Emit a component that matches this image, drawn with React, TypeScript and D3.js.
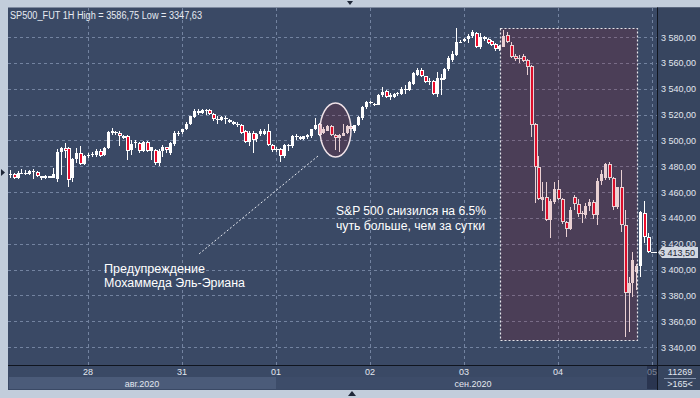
import React from 'react';
import * as d3 from 'd3';

// hourly bars, 24 per day; the first bar sits 20 hours before the 28.08 00:00 line
const startSlot = -20;

const opens = [
  3473, 3474, 3471, 3474.5, 3475, 3474, 3476, 3475.5, 3472, 3471, 3472, 3471, 3470, 3491, 3494, 3494, 3471, 3485.5, 3490, 3482,
  3488, 3488.5, 3488.5, 3492, 3488.5, 3494, 3506, 3506.5, 3505.5, 3503, 3503.4, 3492.5, 3497.7, 3497.7, 3492, 3498.5, 3492, 3492.5, 3482.2, 3491.5, 3494.5, 3490.5, 3497, 3505.4,
  3506.5, 3508.5, 3513, 3518, 3523, 3521.5, 3523.5, 3523.5, 3520.5, 3516.5, 3515.5, 3517.5, 3516, 3514.5, 3513, 3512, 3507, 3499, 3506, 3501, 3505, 3505, 3507, 3496.5,
  3493, 3493, 3487.5, 3496.5, 3496, 3503, 3502.5, 3501, 3502.5, 3503, 3508.5, 3512.5, 3506, 3507.5, 3511, 3504.5, 3502, 3503.5, 3506, 3511, 3507, 3512, 3517, 3526,
  3529.5, 3528.5, 3527.6, 3535, 3538, 3533.5, 3533.5, 3535.5, 3536, 3540, 3539, 3544, 3550.5, 3554.7, 3549.6, 3545.5, 3545.7, 3536.1, 3548, 3547.3, 3555, 3562, 3566, 3576,
  3576.7, 3578.2, 3580.5, 3583, 3572.5, 3580, 3578.5, 3577, 3574.6, 3570.5, 3572.5, 3581.5, 3574, 3565.3, 3563.5, 3565, 3562, 3557.5, 3512.5, 3479, 3454, 3456, 3438, 3452.5,
  3462, 3454.5, 3437, 3431, 3456, 3450.7, 3443, 3442.5, 3449, 3452, 3442.2, 3468.5, 3470.6, 3481.7, 3470.6, 3448.6, 3463.6, 3434.5, 3382, 3389.8, 3398, 3402.7, 3444, 3425,
];
const highs = [
  3477, 3475, 3476, 3478, 3477, 3477, 3478, 3476, 3472.5, 3473, 3472.5, 3478.5, 3493, 3495, 3498, 3494.5, 3486, 3494, 3496, 3489,
  3490, 3491, 3493, 3493, 3495, 3507, 3509.5, 3507, 3507, 3504, 3504, 3500.3, 3500.3, 3499, 3499.5, 3499.5, 3495, 3493, 3493, 3496.4, 3495, 3499, 3507, 3507,
  3509, 3514, 3519, 3524, 3524, 3524.5, 3524, 3524, 3521, 3518.5, 3519, 3519, 3516.5, 3515, 3514, 3512.5, 3508, 3507, 3507, 3506, 3508.5, 3509, 3513, 3497.5,
  3495, 3494, 3497, 3497, 3504, 3505, 3503, 3503.5, 3505, 3509, 3517, 3513.5, 3510, 3512, 3512, 3505, 3505, 3513, 3512, 3512.5, 3512, 3519, 3526.5, 3530.5,
  3530.5, 3529, 3536, 3541.3, 3539, 3537, 3537, 3537.5, 3541, 3542.5, 3546, 3553, 3556, 3556, 3550, 3548.5, 3547, 3553, 3551.5, 3556, 3565.5, 3569.5, 3586.75, 3577.5,
  3579, 3582, 3585.5, 3584, 3583, 3581, 3579, 3578, 3575.5, 3574, 3585.4, 3584, 3576, 3567, 3566, 3567, 3563, 3558, 3513.5, 3487.5, 3468, 3468, 3454.5, 3468,
  3469, 3455, 3437.5, 3448.5, 3457.7, 3454.4, 3445, 3451.3, 3454.4, 3453.8, 3470.6, 3477, 3482.7, 3483.5, 3472, 3464, 3477, 3446, 3394.4, 3413.8, 3404, 3445.5, 3453.3, 3428.5,
];
const lows = [
  3471, 3470, 3470, 3474, 3473, 3473, 3470, 3472, 3469, 3470, 3470.5, 3470.5, 3468, 3473, 3486, 3464, 3468, 3482.5, 3481, 3481,
  3486.5, 3487, 3487, 3487, 3488, 3493, 3504, 3504, 3496, 3501, 3484.8, 3488.6, 3493.8, 3490.5, 3491, 3491, 3484.8, 3481, 3480.5, 3487.3, 3490.5, 3488.6, 3496, 3503,
  3505, 3508, 3512, 3517.5, 3520, 3520.5, 3520, 3520, 3515, 3513, 3515, 3513, 3513.5, 3512, 3510.5, 3505, 3498, 3496, 3490, 3499, 3503, 3504, 3496, 3491,
  3491, 3483.5, 3486, 3492, 3494, 3500.5, 3500, 3500, 3501, 3502, 3508, 3503, 3505, 3507, 3503, 3492.5, 3491, 3503, 3505, 3507.5, 3506, 3511, 3516, 3524,
  3528, 3526.5, 3527, 3533.5, 3532.5, 3531.5, 3533, 3534.5, 3535, 3536, 3538.5, 3543, 3549.5, 3549, 3544.5, 3543, 3535.3, 3533.5, 3535, 3546.5, 3554, 3561, 3565, 3575,
  3576, 3575.7, 3579.5, 3571.5, 3570.5, 3577, 3574.5, 3573, 3569, 3569, 3572, 3575.5, 3564, 3561.5, 3560, 3560.5, 3550.6, 3502.5, 3451.3, 3453.5, 3445, 3437.5, 3424.2, 3451,
  3453.5, 3435, 3425.5, 3430.5, 3446, 3441, 3436.2, 3439.7, 3445, 3439, 3434.5, 3465.5, 3469.5, 3469, 3446, 3447, 3429.3, 3347.63, 3352, 3378.5, 3384, 3394.4, 3420.8, 3412.5,
];
const closes = [
  3474, 3471, 3474.5, 3475, 3474, 3476, 3476.5, 3472.5, 3470.5, 3472, 3471, 3474, 3491, 3494, 3492, 3469.3, 3485.5, 3490, 3482, 3488,
  3488.5, 3489.5, 3492, 3488, 3494, 3506.5, 3507, 3505.5, 3503, 3502, 3492, 3496.9, 3498.9, 3492, 3498.5, 3492, 3494.6, 3482.2, 3492, 3495, 3492.5, 3497.7, 3505.4, 3506,
  3508.5, 3513, 3518.5, 3523, 3521.5, 3523.5, 3523, 3520.5, 3516.3, 3516, 3518, 3517, 3514.5, 3512.5, 3511.5, 3505.5, 3499, 3505.5, 3500.5, 3505, 3507, 3507.5, 3496.5, 3492.5,
  3492.5, 3487.5, 3496.5, 3496, 3503, 3502.5, 3501, 3503, 3504, 3508.5, 3512, 3504, 3508.5, 3511, 3504, 3502, 3504, 3506, 3511, 3509, 3511.5, 3518, 3526, 3529.7,
  3529, 3527.5, 3535, 3537.5, 3533.3, 3535, 3536, 3536.5, 3540, 3539, 3545.2, 3552, 3554.7, 3549.6, 3545.2, 3546, 3536.1, 3548.3, 3547, 3555.5, 3563.7, 3567, 3576, 3576.5,
  3578.2, 3580.8, 3583.9, 3572.5, 3580.2, 3578.2, 3575.6, 3573.8, 3570.5, 3573, 3580.8, 3576.4, 3564.8, 3562.7, 3563, 3561.7, 3557, 3512, 3479, 3454.5, 3456, 3438, 3453.3, 3462,
  3454.5, 3436.5, 3431, 3446, 3450.7, 3443, 3443.5, 3449, 3452, 3442.2, 3468.8, 3474, 3481.7, 3470.6, 3448.6, 3463.6, 3434.5, 3382, 3389.8, 3407.4, 3402.7, 3444.8, 3425, 3413.5,
];

const priceTicks = [3340, 3360, 3380, 3400, 3420, 3440, 3460, 3480, 3500, 3520, 3540, 3560, 3580];
const dayLabels = ['28', '31', '01', '02', '03', '04', '05'];
const monthLabels = ['авг.2020', 'сен.2020'];
const lastPrice = 3413.5;
const header = 'SP500_FUT 1H High = 3586,75 Low = 3347,63';

const fmt = d3.formatLocale({ decimal: ',', thousands: '\u00a0', grouping: [3], currency: ['', ''] }).format(',.2f');

const BG = '#3a4965';
const FRAME = '#c2cddb';
const GRID = '#7383a0';
const RED = '#ee0c2c';
const FONT = '"Liberation Sans", Arial, sans-serif';

export default function App() {
  const x = d3.scaleLinear().domain([0, 24]).range([88, 182]);
  const y = d3.scaleLinear().domain([3340, 3580]).range([347, 37]);
  const plotL = 8, plotR = 657, plotT = 7.5, plotB = 365;
  const sepX = x(48); // 01.09 – month change

  const bars = opens.map((o, i) => ({
    s: startSlot + i, o, h: Math.max(highs[i], o, closes[i]), l: Math.min(lows[i], o, closes[i]), c: closes[i],
  }));

  return (
    <svg width={700} height={398} style={{ position: 'absolute', left: 0, top: 0 }} fontFamily={FONT}>
      <rect width={700} height={398} fill={FRAME} />
      <rect x={plotL} y={plotT} width={700 - plotL} height={plotB - plotT} fill={BG} />
      <defs>
        <clipPath id="plot"><rect x={plotL} y={plotT} width={plotR - plotL} height={plotB - plotT} /></clipPath>
      </defs>

      {/* grid */}
      <g stroke={GRID} strokeWidth={1} strokeDasharray="3,3" shapeRendering="crispEdges">
        {priceTicks.map(p => (
          <line key={p} x1={plotL} x2={plotR} y1={Math.round(y(p)) + 0.5} y2={Math.round(y(p)) + 0.5} />
        ))}
        {dayLabels.map((d, k) => (
          <line key={d} x1={Math.round(x(k * 24)) + 0.5} x2={Math.round(x(k * 24)) + 0.5} y1={plotT} y2={plotB} />
        ))}
      </g>

      <text x={10} y={18.5} fontSize={10} fill="#e6ebf3" textLength={192} lengthAdjust="spacingAndGlyphs">{header}</text>

      {/* candles */}
      <g clipPath="url(#plot)" shapeRendering="crispEdges">
        {bars.map(b => {
          const px = Math.round(x(b.s));
          const top = Math.round(y(Math.max(b.o, b.c)));
          const bot = Math.round(y(Math.min(b.o, b.c)));
          const hgt = Math.max(1, bot - top);
          const up = b.c >= b.o;
          return (
            <g key={b.s}>
              <line x1={px + 0.5} x2={px + 0.5} y1={y(b.h)} y2={y(b.l)} stroke="#ffffff" />
              {up
                ? <rect x={px - 1} y={top} width={3} height={hgt} fill="#ffffff" />
                : <rect x={px - 1} y={top} width={4} height={hgt} fill="#ffffff" />}
              {!up && hgt > 2 && <rect x={px} y={top + 1} width={2} height={hgt - 2} fill={RED} />}
            </g>
          );
        })}
        <line x1={Math.round(x(143)) + 3} x2={plotR} y1={Math.round(y(lastPrice)) + 0.5} y2={Math.round(y(lastPrice)) + 0.5} stroke="#ffffff" />
      </g>

      {/* highlighted areas */}
      <rect x={500.5} y={28.5} width={137} height={312} fill="rgba(143,18,36,0.2)" stroke="#e6e6ea" strokeWidth={1.2} strokeDasharray="2,2" />
      <ellipse cx={335.5} cy={130} rx={15.5} ry={27} fill="rgba(143,18,36,0.2)" stroke="#efe2e8" strokeWidth={1.5} />
      <line x1={318} y1={156} x2={199} y2={254} stroke="#e6e9f0" strokeWidth={1} strokeDasharray="2,2" />

      <g fill="#ffffff" fontSize={12}>
        <text x={104} y={273} textLength={101} lengthAdjust="spacingAndGlyphs">Предупреждение</text>
        <text x={104} y={287} textLength={141} lengthAdjust="spacingAndGlyphs">Мохаммеда Эль-Эриана</text>
        <text x={336} y={215} textLength={150} lengthAdjust="spacingAndGlyphs">S&amp;P 500 снизился на 6.5%</text>
        <text x={336} y={229.5} textLength={149} lengthAdjust="spacingAndGlyphs">чуть больше, чем за сутки</text>
      </g>

      {/* price axis */}
      <rect x={plotR} y={plotT} width={700 - plotR} height={390 - plotT} fill="#37455f" />
      <line x1={plotR + 0.5} x2={plotR + 0.5} y1={plotT} y2={390} stroke="#10151f" />
      <g fill="#e2e7ef" fontSize={9}>
        {priceTicks.map(p => (
          <text key={p} x={661} y={y(p) + 3.5}>{fmt(p)}</text>
        ))}
      </g>
      <path d={`M${plotR + 1},${y(lastPrice) + 0.5} L${plotR + 5},${y(lastPrice) - 5} H698 V${y(lastPrice) + 6} H${plotR + 5} Z`} fill="#d3d9e2" />
      <text x={660} y={y(lastPrice) + 4} fontSize={9} fill="#1c2333">{fmt(lastPrice)}</text>

      {/* time axis */}
      <rect x={plotL} y={plotB} width={plotR - plotL} height={25} fill={BG} />
      <line x1={plotL} x2={700} y1={plotB + 0.5} y2={plotB + 0.5} stroke="#10151f" />
      <rect x={plotL + 1} y={377} width={sepX - plotL - 1} height={12} fill="#4b5b79" />
      <rect x={sepX} y={377} width={647 - sepX} height={12} fill="#3d4c69" />
      <rect x={647} y={366} width={plotR - 647} height={23} fill="#2a3550" />
      <g fill="#e2e7ef" fontSize={9} textAnchor="middle">
        {dayLabels.map((d, k) => (
          <text key={d} x={x(k * 24)} y={374.5} fillOpacity={k === 6 ? 0.45 : 1}>{d}</text>
        ))}
        <text x={(plotL + sepX) / 2} y={386.5}>{monthLabels[0]}</text>
        <text x={473} y={386.5}>{monthLabels[1]}</text>
        <text x={680} y={374.5}>11269</text>
        <text x={680} y={387}>&gt;165&lt;</text>
      </g>
      <line x1={664} x2={696} y1={378.5} y2={378.5} stroke="#8392ab" />

      {/* frame arrows */}
      <rect x={0} y={390} width={700} height={8} fill={FRAME} />
      <path d="M347,1 L353,1 L350,5 Z" fill="#1e2738" />
      <path d="M1,169 L5,172.5 L1,176 Z" fill="#1e2738" />
      <path d="M348,396 L356,396 L352,391 Z" fill="#1e2738" />
    </svg>
  );
}
